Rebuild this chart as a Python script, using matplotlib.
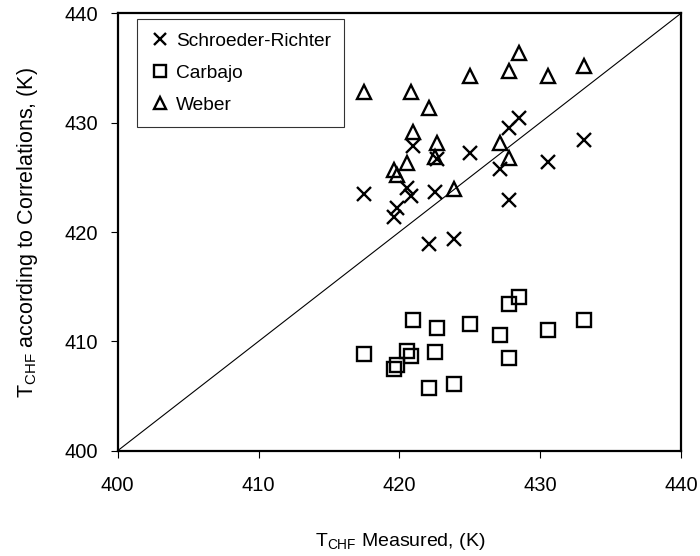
import matplotlib
matplotlib.use("Agg")
import matplotlib.pyplot as plt

plt.rcParams['font.family'] = ['Liberation Sans', 'DejaVu Sans']

# Measured T_CHF (K)
measured = [417.5, 419.64, 419.82, 420.53, 420.81, 421.0, 422.09, 422.54, 422.66,
            423.89, 425.02, 427.15, 427.81, 427.81, 428.5, 430.58, 433.12]

schroeder = [423.5, 421.4, 422.2, 424.0, 423.3, 427.9, 418.9, 423.7, 426.7,
             419.4, 427.25, 425.8, 429.55, 422.9, 430.4, 426.4, 428.4]

carbajo_x = [417.51, 419.64, 419.82, 420.53, 420.81, 421.0, 422.09, 422.54, 422.66,
             423.89, 425.02, 427.15, 427.81, 427.81, 428.5, 430.58, 433.12]
carbajo = [408.84, 407.47, 407.84, 409.12, 408.66, 411.95, 405.71, 409.05, 411.19,
           406.07, 411.59, 410.58, 413.39, 408.45, 414.08, 411.04, 411.95]

weber = [432.78, 425.67, 425.21, 426.28, 432.78, 429.17, 431.37, 426.89, 428.11,
         423.90, 434.27, 428.11, 434.72, 426.74, 436.34, 434.27, 435.18]

ticks = [400, 410, 420, 430, 440]

fig = plt.figure(figsize=(7.0, 5.56), dpi=100)
ax = fig.add_axes([117.7/700, 1-450.7/556, (681-117.7)/700, (450.7-13.3)/556])

ax.plot([400, 440], [400, 440], color='black', lw=0.8, zorder=1)

ax.plot(measured, schroeder, linestyle='none', marker='x', markersize=10.5,
        markeredgewidth=1.7, color='black', label='Schroeder-Richter', zorder=3)
ax.plot(carbajo_x, carbajo, linestyle='none', marker='s', markersize=9.5,
        markerfacecolor='none', markeredgewidth=1.7, markeredgecolor='black',
        label='Carbajo', zorder=3)
ax.plot(measured, weber, linestyle='none', marker='^', markersize=10.5,
        markerfacecolor='none', markeredgewidth=1.7, markeredgecolor='black',
        label='Weber', zorder=3)

ax.set_xlim(400, 440)
ax.set_ylim(400, 440)
ax.set_xticks(ticks)
ax.set_yticks(ticks)
ax.set_xticklabels([str(t) for t in ticks], fontsize=14.5)
ax.set_yticklabels([str(t) for t in ticks], fontsize=14.5)
ax.tick_params(axis='both', direction='out', length=5, width=0.8, color='black')
ax.tick_params(axis='x', pad=13)
ax.tick_params(axis='y', pad=9)

for s in ax.spines.values():
    s.set_linewidth(1.6)
    s.set_color('black')

leg = ax.legend(loc='upper left', bbox_to_anchor=(0.034, 0.986), borderaxespad=0,
                frameon=True, fancybox=False, edgecolor='black', fontsize=13.75,
                handlelength=1.0, handletextpad=0.35, labelspacing=0.75,
                borderpad=0.7, numpoints=1, markerscale=0.85)
leg.get_frame().set_linewidth(0.8)

fig.text(400/700, 1-541/556, r'T$_{\mathregular{CHF}}$ Measured, (K)', fontsize=14,
         ha='center', va='center')
fig.text(28/700, 1-398/556, r'T$_{\mathregular{CHF}}$ according to Correlations, (K)',
         fontsize=15.5, rotation=90, ha='center', va='bottom')

fig.savefig('out.png', dpi=100)
